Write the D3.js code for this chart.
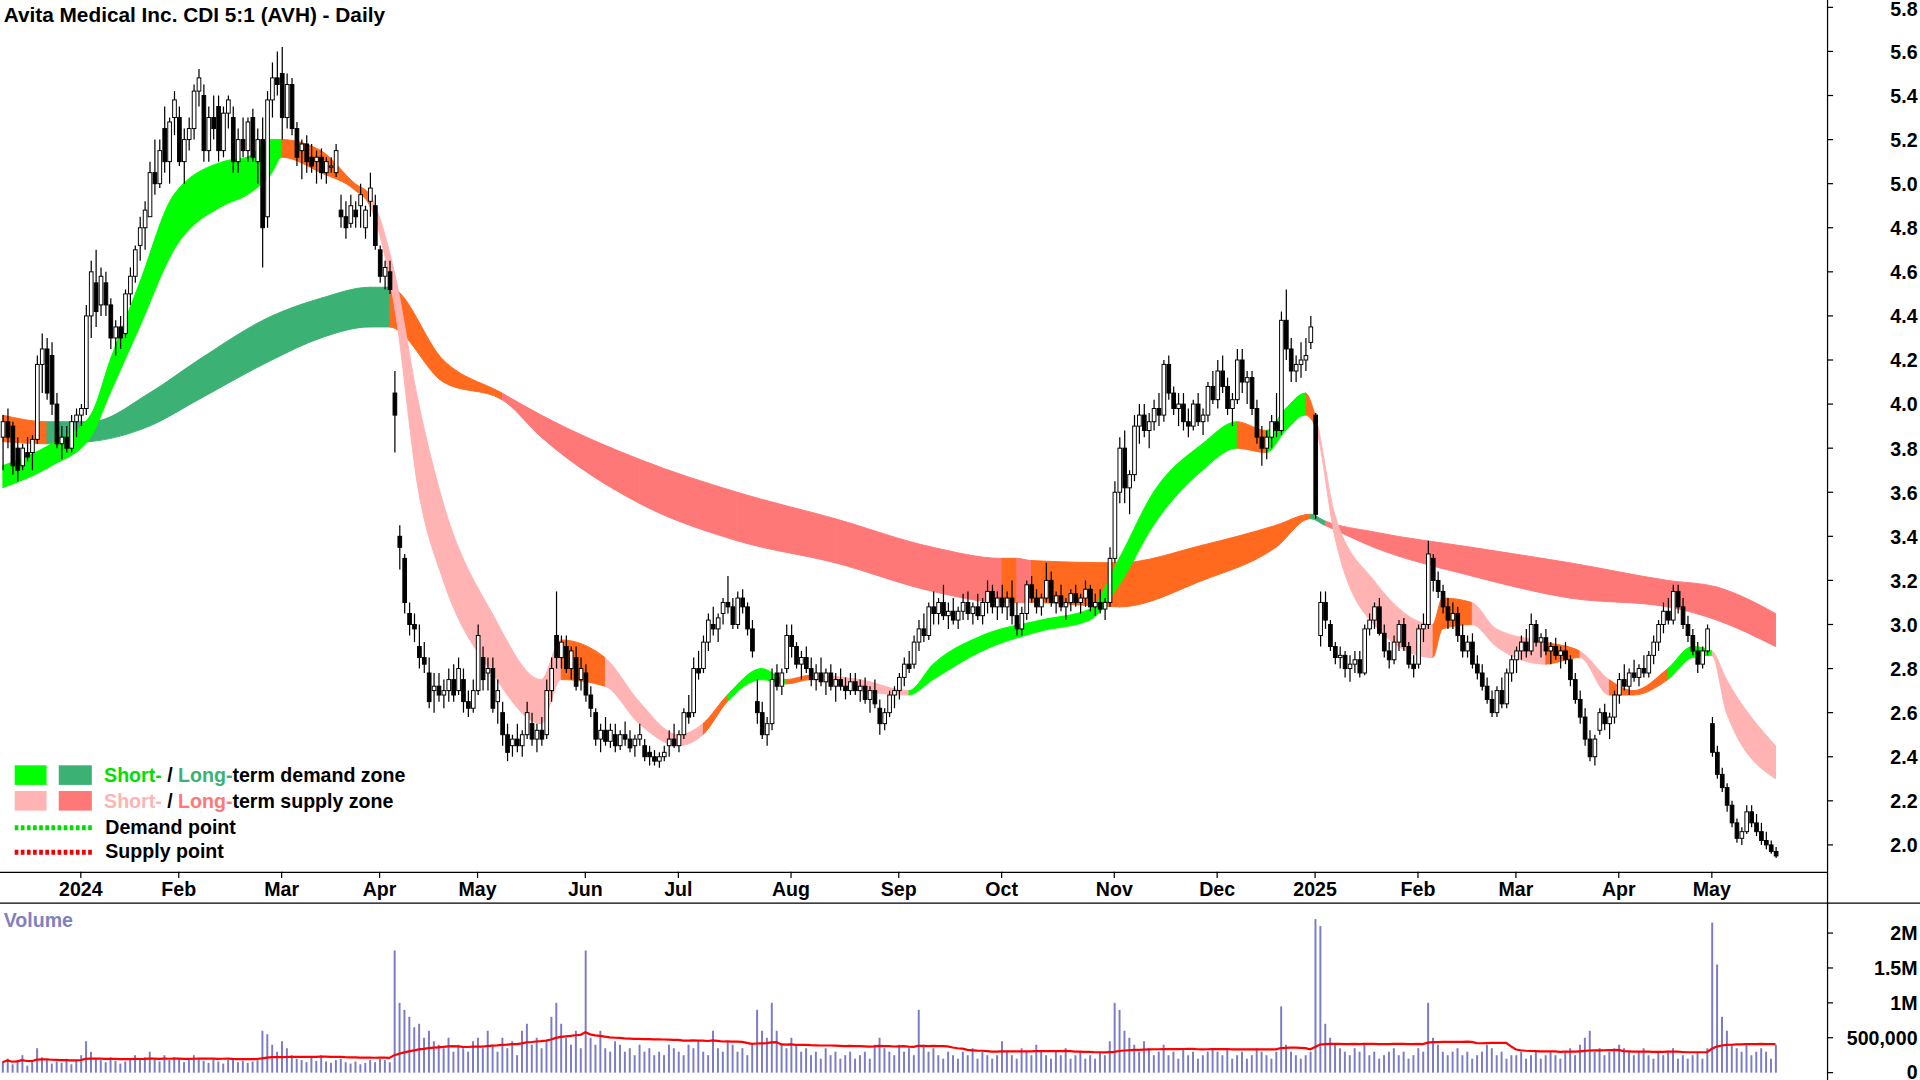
<!DOCTYPE html>
<html><head><meta charset="utf-8">
<script src="https://cdn.jsdelivr.net/npm/d3@7"></script>
<style>body{margin:0;background:#fff;overflow:hidden}svg{font-family:Arial,"Liberation Sans",sans-serif;display:block}</style>
</head><body><div id="chart"></div>
<script>
// months shown on the date axis and their candles [open, high, low, close]
const months = ["", "2024", "Feb", "Mar", "Apr", "May", "Jun", "Jul", "Aug", "Sep", "Oct", "Nov", "Dec", "2025", "Feb", "Mar", "Apr", "May"];
const candles = [
[[3.85,3.95,3.70,3.92],[3.92,3.98,3.80,3.85],[3.90,3.92,3.68,3.72],[3.80,3.85,3.65,3.70],[3.72,3.82,3.70,3.80],[3.78,3.85,3.74,3.76],[3.78,3.86,3.70,3.84],[3.84,4.22,3.82,4.18],[4.18,4.32,4.05,4.25],[4.25,4.30,4.02,4.05],[4.22,4.28,3.95,4.00],[4.00,4.05,3.80,3.82],[3.82,3.90,3.75,3.85],[3.85,3.90,3.78,3.80],[3.80,3.95,3.78,3.92],[3.92,3.98,3.85,3.95]],
[[3.95,4.00,3.90,3.98],[3.98,4.45,3.95,4.40],[4.40,4.65,4.30,4.60],[4.55,4.70,4.35,4.42],[4.45,4.62,4.40,4.58],[4.55,4.60,4.40,4.45],[4.45,4.48,4.25,4.30],[4.30,4.38,4.22,4.35],[4.35,4.40,4.25,4.30],[4.32,4.52,4.30,4.50],[4.50,4.62,4.45,4.58],[4.58,4.72,4.55,4.70],[4.72,4.85,4.65,4.80],[4.80,4.92,4.70,4.88],[4.85,5.10,4.85,5.05],[5.05,5.20,4.95,5.00],[5.00,5.20,4.98,5.15],[5.25,5.35,5.05,5.10],[5.10,5.30,5.00,5.28],[5.30,5.42,5.22,5.38]],
[[5.30,5.35,5.08,5.10],[5.10,5.25,5.00,5.20],[5.20,5.30,5.15,5.25],[5.25,5.45,5.20,5.42],[5.42,5.52,5.35,5.48],[5.40,5.45,5.10,5.15],[5.15,5.35,5.10,5.30],[5.30,5.40,5.20,5.25],[5.35,5.40,5.10,5.15],[5.15,5.35,5.12,5.32],[5.32,5.40,5.25,5.38],[5.30,5.35,5.05,5.10],[5.10,5.25,5.05,5.20],[5.20,5.30,5.12,5.15],[5.15,5.30,5.10,5.28],[5.30,5.34,5.10,5.12],[5.10,5.25,5.00,5.20],[5.20,5.30,4.62,4.80],[4.85,5.42,4.80,5.38],[5.38,5.55,5.30,5.48],[5.48,5.60,5.40,5.45]],
[[5.50,5.62,5.20,5.30],[5.30,5.50,5.25,5.45],[5.45,5.48,5.22,5.25],[5.25,5.28,5.08,5.12],[5.15,5.20,5.02,5.18],[5.18,5.22,5.05,5.10],[5.12,5.18,5.05,5.08],[5.10,5.15,5.00,5.12],[5.12,5.16,5.02,5.05],[5.05,5.12,5.00,5.10],[5.08,5.12,5.05,5.08],[5.05,5.18,5.03,5.15],[4.88,4.95,4.80,4.85],[4.85,4.92,4.75,4.80],[4.82,4.95,4.80,4.90],[4.88,4.92,4.80,4.85],[4.90,5.00,4.80,4.95],[4.80,4.90,4.75,4.88],[4.92,5.05,4.85,4.98],[4.90,4.95,4.70,4.72]],
[[4.70,4.72,4.55,4.58],[4.58,4.65,4.52,4.62],[4.60,4.65,4.50,4.52],[4.05,4.15,3.78,3.95],[3.40,3.45,3.25,3.35],[3.30,3.32,3.05,3.10],[3.05,3.10,2.95,3.00],[3.00,3.05,2.92,2.98],[2.90,3.00,2.80,2.85],[2.85,2.92,2.78,2.82],[2.78,2.85,2.62,2.65],[2.70,2.78,2.60,2.72],[2.72,2.78,2.65,2.68],[2.68,2.75,2.62,2.70],[2.70,2.80,2.65,2.75],[2.75,2.82,2.65,2.68],[2.70,2.85,2.68,2.80],[2.75,2.80,2.60,2.65],[2.65,2.70,2.58,2.62],[2.62,2.75,2.60,2.70]],
[[2.70,3.00,2.68,2.95],[2.85,2.90,2.70,2.75],[2.78,2.85,2.70,2.80],[2.80,2.85,2.60,2.62],[2.65,2.75,2.55,2.70],[2.60,2.65,2.45,2.50],[2.50,2.55,2.38,2.42],[2.45,2.50,2.40,2.48],[2.48,2.55,2.42,2.45],[2.45,2.52,2.40,2.50],[2.50,2.65,2.48,2.60],[2.55,2.60,2.45,2.48],[2.48,2.55,2.42,2.52],[2.52,2.58,2.45,2.48],[2.50,2.75,2.48,2.70],[2.70,2.85,2.65,2.80],[2.95,3.15,2.80,2.85],[2.85,2.95,2.80,2.92],[2.90,2.95,2.78,2.80],[2.80,2.90,2.75,2.88],[2.85,2.90,2.70,2.72],[2.75,2.85,2.70,2.80]],
[[2.78,2.82,2.65,2.68],[2.68,2.72,2.58,2.62],[2.60,2.62,2.45,2.48],[2.48,2.55,2.42,2.52],[2.52,2.58,2.45,2.47],[2.47,2.55,2.44,2.52],[2.50,2.55,2.42,2.45],[2.45,2.52,2.43,2.50],[2.50,2.56,2.45,2.48],[2.48,2.52,2.42,2.44],[2.45,2.50,2.40,2.48],[2.48,2.55,2.45,2.50],[2.45,2.48,2.38,2.40],[2.42,2.45,2.36,2.40],[2.40,2.43,2.36,2.38],[2.38,2.42,2.35,2.40],[2.40,2.45,2.38,2.42],[2.45,2.52,2.40,2.48],[2.48,2.55,2.44,2.45]],
[[2.45,2.52,2.42,2.50],[2.50,2.62,2.48,2.60],[2.60,2.68,2.55,2.58],[2.60,2.85,2.58,2.80],[2.80,2.88,2.75,2.78],[2.80,2.95,2.78,2.92],[2.92,3.05,2.88,3.02],[3.00,3.08,2.95,2.98],[2.98,3.05,2.92,3.03],[3.05,3.12,3.00,3.10],[3.10,3.22,3.05,3.08],[3.08,3.12,2.98,3.00],[3.00,3.15,2.98,3.12],[3.12,3.16,3.05,3.08],[3.08,3.10,2.95,2.98],[2.98,3.02,2.85,2.88],[2.65,2.75,2.55,2.60],[2.60,2.65,2.48,2.50],[2.50,2.58,2.45,2.55],[2.55,2.80,2.52,2.75],[2.78,2.82,2.70,2.72],[2.72,2.80,2.68,2.78],[2.80,3.00,2.78,2.95]],
[[2.95,3.00,2.85,2.90],[2.90,2.92,2.80,2.82],[2.82,2.88,2.75,2.85],[2.85,2.90,2.78,2.80],[2.80,2.85,2.72,2.75],[2.75,2.82,2.70,2.78],[2.78,2.85,2.72,2.74],[2.74,2.80,2.68,2.78],[2.78,2.82,2.70,2.72],[2.72,2.78,2.65,2.75],[2.75,2.80,2.70,2.72],[2.72,2.76,2.66,2.70],[2.70,2.78,2.68,2.74],[2.74,2.78,2.68,2.70],[2.70,2.75,2.65,2.72],[2.72,2.76,2.64,2.66],[2.66,2.72,2.60,2.70],[2.70,2.75,2.62,2.64],[2.62,2.66,2.50,2.55],[2.55,2.62,2.52,2.60],[2.60,2.70,2.58,2.68],[2.68,2.72,2.62,2.70]],
[[2.70,2.78,2.66,2.76],[2.76,2.85,2.72,2.82],[2.82,2.88,2.78,2.80],[2.82,2.95,2.80,2.92],[2.92,3.02,2.88,2.98],[2.98,3.05,2.92,2.95],[2.95,3.10,2.93,3.08],[3.08,3.15,3.00,3.05],[3.05,3.12,3.00,3.10],[3.10,3.18,3.02,3.04],[3.04,3.10,2.98,3.06],[3.06,3.12,3.00,3.02],[3.02,3.08,2.98,3.06],[3.06,3.14,3.02,3.10],[3.10,3.15,3.02,3.05],[3.05,3.10,3.00,3.08],[3.08,3.14,3.02,3.04],[3.04,3.12,3.00,3.10],[3.10,3.20,3.05,3.15],[3.15,3.18,3.05,3.08],[3.08,3.15,3.02,3.12]],
[[3.12,3.18,3.05,3.08],[3.08,3.15,3.02,3.12],[3.12,3.20,3.00,3.04],[3.04,3.10,2.95,2.98],[2.98,3.08,2.95,3.05],[3.05,3.20,3.02,3.18],[3.18,3.22,3.10,3.12],[3.12,3.16,3.05,3.08],[3.08,3.14,3.04,3.12],[3.12,3.28,3.10,3.20],[3.20,3.24,3.08,3.10],[3.10,3.15,3.05,3.13],[3.13,3.18,3.06,3.08],[3.08,3.12,3.02,3.10],[3.10,3.16,3.06,3.14],[3.14,3.18,3.08,3.10],[3.10,3.14,3.05,3.12],[3.12,3.20,3.08,3.16],[3.16,3.18,3.06,3.08],[3.08,3.14,3.04,3.10],[3.10,3.16,3.05,3.07],[3.07,3.12,3.02,3.10],[3.10,3.35,3.08,3.30]],
[[3.30,3.65,3.28,3.60],[3.60,3.85,3.55,3.80],[3.80,3.88,3.55,3.62],[3.62,3.70,3.50,3.68],[3.68,3.95,3.65,3.90],[3.90,4.00,3.82,3.95],[3.95,4.00,3.85,3.88],[3.88,3.96,3.80,3.92],[3.92,4.02,3.88,3.98],[3.98,4.05,3.90,3.95],[3.95,4.20,3.92,4.18],[4.18,4.22,4.02,4.05],[4.05,4.08,3.95,3.98],[3.98,4.05,3.90,4.00],[4.00,4.05,3.88,3.92],[3.92,3.98,3.85,3.90],[3.90,4.02,3.88,4.00],[4.00,4.05,3.90,3.92],[3.92,3.98,3.86,3.95],[3.95,4.10,3.92,4.08],[4.08,4.15,4.00,4.02]],
[[4.02,4.20,3.98,4.15],[4.15,4.22,4.05,4.08],[4.08,4.12,3.95,3.98],[3.98,4.05,3.90,4.02],[4.02,4.25,4.00,4.20],[4.20,4.25,4.05,4.10],[4.10,4.15,4.00,4.12],[4.12,4.15,3.95,3.98],[3.98,4.02,3.82,3.85],[3.85,3.90,3.72,3.80],[3.80,3.88,3.75,3.85],[3.85,3.95,3.80,3.92],[3.92,4.05,3.85,3.88],[3.88,4.42,3.86,4.38],[4.38,4.52,4.20,4.25],[4.25,4.30,4.10,4.15],[4.15,4.22,4.10,4.18],[4.18,4.28,4.12,4.20],[4.20,4.30,4.15,4.22],[4.28,4.40,4.25,4.35]],
[[3.95,3.96,3.48,3.50],[2.95,3.15,2.90,3.10],[3.10,3.15,2.98,3.02],[3.00,3.02,2.88,2.90],[2.90,2.92,2.82,2.85],[2.85,2.90,2.80,2.86],[2.86,2.88,2.76,2.80],[2.80,2.86,2.74,2.82],[2.82,2.88,2.78,2.84],[2.84,2.88,2.76,2.78],[2.78,3.00,2.77,2.98],[2.98,3.05,2.95,3.02],[3.02,3.10,2.98,3.08],[3.08,3.12,2.95,2.96],[2.96,3.00,2.85,2.88],[2.88,2.92,2.80,2.84],[2.84,2.95,2.82,2.92],[2.92,3.02,2.88,3.00],[3.00,3.03,2.88,2.90],[2.90,2.92,2.80,2.82],[2.82,2.86,2.76,2.80]],
[[2.82,3.00,2.80,2.98],[2.98,3.05,2.92,3.00],[3.00,3.38,2.98,3.32],[3.30,3.32,3.15,3.20],[3.20,3.24,3.12,3.15],[3.15,3.18,3.05,3.08],[3.08,3.12,2.98,3.02],[3.02,3.10,2.98,3.05],[3.05,3.08,2.92,2.95],[2.95,3.00,2.85,2.88],[2.88,2.95,2.85,2.92],[2.92,2.96,2.80,2.82],[2.82,2.86,2.75,2.78],[2.78,2.82,2.70,2.72],[2.72,2.76,2.64,2.66],[2.66,2.70,2.58,2.60],[2.60,2.72,2.58,2.70],[2.70,2.76,2.62,2.64],[2.64,2.80,2.62,2.78],[2.78,2.86,2.74,2.84]],
[[2.84,2.90,2.78,2.88],[2.88,2.95,2.84,2.92],[2.92,2.98,2.85,2.88],[2.88,3.05,2.86,3.00],[3.00,3.02,2.90,2.92],[2.92,2.96,2.85,2.94],[2.94,2.98,2.86,2.88],[2.88,2.92,2.82,2.90],[2.90,2.94,2.84,2.86],[2.86,2.90,2.80,2.88],[2.88,2.92,2.82,2.84],[2.84,2.86,2.72,2.75],[2.75,2.78,2.64,2.66],[2.66,2.70,2.55,2.58],[2.58,2.62,2.45,2.48],[2.48,2.52,2.38,2.40],[2.40,2.50,2.36,2.48],[2.52,2.62,2.50,2.60],[2.60,2.64,2.52,2.55],[2.55,2.60,2.48,2.58],[2.58,2.70,2.55,2.68]],
[[2.68,2.78,2.64,2.75],[2.75,2.82,2.70,2.72],[2.72,2.80,2.68,2.78],[2.78,2.84,2.74,2.76],[2.76,2.82,2.72,2.80],[2.80,2.86,2.76,2.78],[2.78,2.88,2.76,2.86],[2.86,2.95,2.82,2.92],[2.92,3.02,2.88,3.00],[3.00,3.10,2.96,3.06],[3.06,3.12,3.00,3.02],[3.02,3.18,3.00,3.15],[3.15,3.18,3.05,3.08],[3.08,3.12,2.98,3.00],[3.00,3.04,2.92,2.95],[2.95,2.98,2.86,2.88],[2.88,2.92,2.78,2.82],[2.82,2.90,2.80,2.88],[2.88,3.00,2.86,2.98]],
[[2.55,2.58,2.40,2.42],[2.42,2.45,2.30,2.32],[2.32,2.35,2.24,2.26],[2.26,2.28,2.15,2.18],[2.18,2.20,2.08,2.10],[2.10,2.12,2.01,2.03],[2.03,2.08,2.00,2.06],[2.06,2.18,2.05,2.15],[2.15,2.18,2.08,2.10],[2.10,2.14,2.04,2.06],[2.06,2.10,2.00,2.02],[2.02,2.06,1.98,2.00],[2.00,2.02,1.96,1.97],[1.97,1.99,1.94,1.95]]
];
// daily volume, thousands of shares
const volumes = [
[150,200,120,180,250,100,150,350,220,180,130,160,140,200,120,180],
[250,450,300,200,180,150,220,170,130,160,200,250,180,220,300,200,160,250,180,220],
[200,150,180,250,200,170,140,190,160,130,180,200,150,170,140,160,180,600,550,400,300],
[450,350,250,200,180,150,220,170,250,160,140,180,200,150,130,160,120,140,180,150],
[200,180,150,1750,1000,900,800,650,700,500,600,450,400,350,500,300,400,350,300,450],
[500,350,600,400,300,500,350,450,250,600,700,400,500,350,450,800,1000,700,500,400,600,350],
[1750,500,400,600,350,300,450,400,300,350,250,400,300,350,250,300,250,400,350],
[300,250,400,350,450,300,250,600,350,300,450,400,300,350,250,400,900,600,500,1000,600,400,350],
[500,400,300,350,250,300,200,350,250,300,200,250,300,200,250,300,200,400,500,350,300,250],
[400,300,350,250,900,400,300,350,250,200,300,250,200,300,250,350,200,300,250,200,250],
[450,300,250,200,350,300,250,400,300,250,200,300,250,350,200,250,300,200,250,200,300,250,450],
[1000,900,600,500,400,300,450,350,250,300,400,250,300,200,350,250,300,200,250,300,350],
[300,250,350,200,250,300,200,250,350,300,250,200,300,950,400,300,250,200,250,300],
[2200,2100,700,500,400,350,300,250,350,300,400,250,300,200,250,300,350,250,300,200,250],
[350,300,1000,500,400,300,250,300,350,250,300,200,250,300,400,350,250,300,200,250],
[250,300,200,250,300,200,250,300,250,200,300,350,250,400,500,600,300,350,250,300,350],
[400,350,300,250,300,350,250,200,300,250,300,350,200,250,200,250,300,200,350],
[2150,1550,800,600,400,350,300,400,250,300,350,300,200,400]
];
// zone knots: [day index, upper, lower, state] ; state: d=demand, s=supply, m=mixed
const shortZone = [[0,3.72,3.62,"d"],[10,3.82,3.72,"d"],[18,3.95,3.85,"d"],[22,4.2,4.05,"d"],[28,4.55,4.35,"d"],[35,4.95,4.7,"d"],[45,5.1,4.9,"d"],[50,5.12,4.95,"d"],[55,5.2,5.05,"d"],[57,5.2,5.12,"m"],[65,5.15,5.05,"m"],[72,5.0,4.97,"m"],[75,4.95,4.9,"s"],[80,4.6,4.45,"s"],[85,4.0,3.6,"s"],[90,3.55,3.2,"s"],[100,3.05,2.78,"s"],[110,2.75,2.55,"s"],[114,2.93,2.75,"m"],[123,2.85,2.72,"s"],[130,2.65,2.55,"s"],[138,2.5,2.45,"s"],[143,2.55,2.5,"m"],[148,2.68,2.65,"d"],[155,2.8,2.75,"d"],[160,2.75,2.73,"m"],[165,2.77,2.75,"s"],[175,2.75,2.7,"s"],[185,2.7,2.68,"d"],[190,2.82,2.75,"d"],[200,2.95,2.88,"d"],[212,3.02,2.97,"d"],[222,3.07,3.02,"d"],[228,3.3,3.18,"d"],[235,3.6,3.45,"d"],[245,3.82,3.7,"d"],[252,3.92,3.8,"m"],[258,3.88,3.78,"d"],[262,3.98,3.88,"d"],[266,4.05,3.95,"m"],[268,3.95,3.9,"s"],[272,3.5,3.4,"s"],[280,3.2,3.0,"s"],[292,3.0,2.85,"m"],[294,3.12,2.98,"m"],[300,3.1,3.0,"s"],[305,2.98,2.9,"s"],[315,2.92,2.82,"m"],[322,2.88,2.85,"s"],[328,2.75,2.68,"m"],[333,2.7,2.68,"m"],[340,2.8,2.75,"d"],[345,2.9,2.85,"d"],[349,2.88,2.86,"s"],[352,2.75,2.6,"s"],[362,2.45,2.3,"s"]];
const longZone = [[0,3.95,3.83,"m"],[9,3.92,3.82,"d"],[18,3.92,3.83,"d"],[30,4.05,3.9,"d"],[40,4.2,4.02,"d"],[55,4.4,4.2,"d"],[65,4.48,4.3,"d"],[75,4.53,4.35,"d"],[79,4.53,4.35,"m"],[90,4.2,4.1,"m"],[102,4.05,4.02,"s"],[110,3.95,3.85,"s"],[130,3.75,3.55,"s"],[150,3.6,3.38,"s"],[170,3.48,3.28,"s"],[190,3.35,3.15,"s"],[204,3.3,3.1,"m"],[207,3.3,3.1,"s"],[210,3.29,3.1,"m"],[228,3.28,3.08,"m"],[245,3.36,3.2,"m"],[260,3.45,3.35,"m"],[267,3.5,3.48,"d"],[270,3.47,3.45,"s"],[280,3.42,3.35,"s"],[300,3.35,3.22,"s"],[320,3.28,3.12,"s"],[340,3.2,3.08,"s"],[350,3.17,3.02,"s"],[362,3.05,2.9,"s"]];
const priceTicks = [2.0,2.2,2.4,2.6,2.8,3.0,3.2,3.4,3.6,3.8,4.0,4.2,4.4,4.6,4.8,5.0,5.2,5.4,5.6,5.8];
const volTicks = [0,500,1000,1500,2000];
const volTickLabels = ["0","500,000","1M","1.5M","2M"];

const days = candles.flat();
const vols = volumes.flat();
const monthStart = [];
let acc = 0;
candles.forEach(m => { monthStart.push(acc); acc += m.length; });

// drawn in the original 1568x882 frame, scaled to the window
const W = 1568, H = 882, plotR = 1492;
const svg = d3.select("#chart").append("svg").attr("width", 1920).attr("height", 1080)
  .attr("viewBox", `0 0 ${W} ${H}`).attr("preserveAspectRatio", "none");
const x = d3.scaleLinear().domain([0, 363]).range([2, 1454]);
const y = d3.scaleLinear().domain([2.0, 5.8]).range([690, 6]);
const yv = d3.scaleLinear().domain([0, 2000]).range([876, 762]);

svg.append("clipPath").attr("id", "pc").append("rect").attr("x", 0).attr("y", 0).attr("width", plotR).attr("height", 712);

const colors = {
  short: {d: "#00ff00", s: "#ffb3b3", m: "#ff6a1f"},
  long: {d: "#3bb273", s: "#ff7878", m: "#ff6a1f"}
};
function drawZone(knots, pal, id) {
  const area = d3.area().x(d => x(d[0])).y0(d => y(d[2])).y1(d => y(d[1])).curve(d3.curveMonotoneX);
  const g = svg.append("g").attr("clip-path", "url(#pc)");
  knots.slice(0, -1).forEach((k, i) => {
    const cid = id + i;
    svg.append("clipPath").attr("id", cid).append("rect")
      .attr("x", x(k[0])).attr("y", 0).attr("width", x(knots[i + 1][0]) - x(k[0]) + 0.5).attr("height", 712);
    g.append("g").attr("clip-path", `url(#${cid})`).append("path")
      .attr("d", area(knots)).attr("fill", pal[k[3]]).attr("stroke", pal[k[3]]).attr("stroke-width", 0.8);
  });
}
drawZone(longZone, colors.long, "lz");
drawZone(shortZone, colors.short, "sz");

// candles
const cg = svg.append("g");
days.forEach((d, i) => {
  const [o, h, l, c] = d, cx = Math.round(x(i)) + 0.5;
  cg.append("line").attr("x1", cx).attr("x2", cx).attr("y1", y(h)).attr("y2", y(l)).attr("stroke", "#000").attr("stroke-width", 1);
  const top = y(Math.max(o, c)), bh = Math.max(1, Math.abs(y(o) - y(c)));
  cg.append("rect").attr("x", cx - 1.5).attr("y", top).attr("width", 3).attr("height", bh)
    .attr("fill", c >= o ? "#fff" : "#000").attr("stroke", "#000").attr("stroke-width", 0.8);
});

// frames
svg.append("line").attr("x1", 0).attr("x2", plotR).attr("y1", 712.5).attr("y2", 712.5).attr("stroke", "#000");
svg.append("line").attr("x1", 0).attr("x2", W).attr("y1", 737.5).attr("y2", 737.5).attr("stroke", "#000");
svg.append("line").attr("x1", plotR + 0.5).attr("x2", plotR + 0.5).attr("y1", 0).attr("y2", H).attr("stroke", "#000");

// price axis
const pa = svg.append("g").attr("transform", `translate(${plotR},0)`);
priceTicks.forEach(t => {
  pa.append("line").attr("x1", 0).attr("x2", 5).attr("y1", y(t)).attr("y2", y(t)).attr("stroke", "#000");
  pa.append("text").attr("x", 74).attr("y", Math.max(13, y(t) + 6)).attr("text-anchor", "end")
    .attr("font-size", 16).attr("font-weight", "bold").text(t.toFixed(1));
});

// date axis
months.forEach((m, i) => {
  if (!m) return;
  const mx = x(monthStart[i]);
  svg.append("line").attr("x1", mx).attr("x2", mx).attr("y1", 712).attr("y2", 717).attr("stroke", "#000");
  svg.append("text").attr("x", mx).attr("y", 732).attr("text-anchor", "middle")
    .attr("font-size", 16).attr("font-weight", "bold").text(m);
});

// title
svg.append("text").attr("x", 3).attr("y", 18).attr("font-size", 17).attr("font-weight", "bold")
  .text("Avita Medical Inc. CDI 5:1 (AVH) - Daily");

// volume
const vg = svg.append("g");
vols.forEach((v, i) => {
  vg.append("rect").attr("x", Math.round(x(i)) - 0.5).attr("y", yv(v)).attr("width", 1.6).attr("height", 876 - yv(v)).attr("fill", "#7b7bc7");
});
const ma = vols.map((v, i) => d3.mean(vols.slice(Math.max(0, i - 39), i + 1)));
svg.append("path").attr("d", d3.line().x((d, i) => x(i)).y(d => yv(d))(ma)).attr("fill", "none").attr("stroke", "#ff0000").attr("stroke-width", 1.8);
svg.append("text").attr("x", 3).attr("y", 757).attr("font-size", 16).attr("font-weight", "bold").attr("fill", "#8080c0").text("Volume");
volTicks.forEach((t, i) => {
  svg.append("line").attr("x1", plotR).attr("x2", plotR + 5).attr("y1", yv(t)).attr("y2", yv(t)).attr("stroke", "#000");
  svg.append("text").attr("x", 1566).attr("y", Math.min(881, yv(t) + 6)).attr("text-anchor", "end")
    .attr("font-size", 16).attr("font-weight", "bold").text(volTickLabels[i]);
});

// legend
const lg = svg.append("g").attr("font-size", 16).attr("font-weight", "bold");
lg.append("rect").attr("x", 12).attr("y", 625).attr("width", 26).attr("height", 16).attr("fill", colors.short.d);
lg.append("rect").attr("x", 48).attr("y", 625).attr("width", 27).attr("height", 16).attr("fill", colors.long.d);
lg.append("rect").attr("x", 12).attr("y", 646).attr("width", 26).attr("height", 16).attr("fill", colors.short.s);
lg.append("rect").attr("x", 48).attr("y", 646).attr("width", 27).attr("height", 16).attr("fill", colors.long.s);
const t1 = lg.append("text").attr("x", 85).attr("y", 639);
t1.append("tspan").attr("fill", "#00e000").text("Short-");
t1.append("tspan").attr("fill", "#000").text(" / ");
t1.append("tspan").attr("fill", "#3bb273").text("Long-");
t1.append("tspan").attr("fill", "#000").text("term demand zone");
const t2 = lg.append("text").attr("x", 85).attr("y", 660);
t2.append("tspan").attr("fill", "#ffb3b3").text("Short-");
t2.append("tspan").attr("fill", "#000").text(" / ");
t2.append("tspan").attr("fill", "#ff7878").text("Long-");
t2.append("tspan").attr("fill", "#000").text("term supply zone");
lg.append("line").attr("x1", 12).attr("x2", 75).attr("y1", 676).attr("y2", 676).attr("stroke", "#00dd00").attr("stroke-width", 4).attr("stroke-dasharray", "3,2");
lg.append("line").attr("x1", 12).attr("x2", 75).attr("y1", 696).attr("y2", 696).attr("stroke", "#ee0000").attr("stroke-width", 4).attr("stroke-dasharray", "3,2");
lg.append("text").attr("x", 86).attr("y", 681).text("Demand point");
lg.append("text").attr("x", 86).attr("y", 701).text("Supply point");
</script></body></html>
